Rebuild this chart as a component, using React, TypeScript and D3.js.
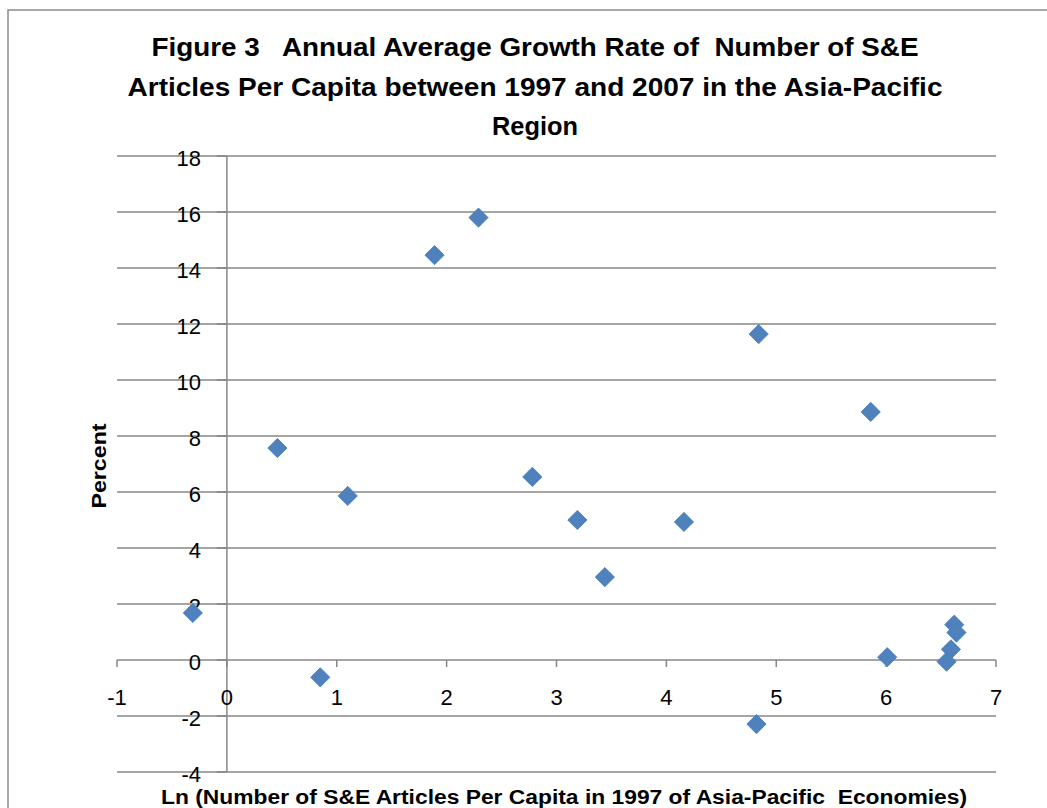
import React from "react";
import * as d3 from "d3";

const xValues = [-0.31, 0.46, 0.85, 1.1, 1.89, 2.29, 2.78, 3.19, 3.44, 4.16, 4.84, 4.82, 5.86, 6.01, 6.55, 6.59, 6.62, 6.64];
const yValues = [1.68, 7.57, -0.62, 5.86, 14.46, 15.8, 6.54, 5.0, 2.96, 4.93, 11.64, -2.29, 8.86, 0.1, -0.06, 0.38, 1.26, 0.98];
const xTicks = [-1, 0, 1, 2, 3, 4, 5, 6, 7];
const yTicks = [-4, -2, 0, 2, 4, 6, 8, 10, 12, 14, 16, 18];
const titleLines = [
  "Figure 3   Annual Average Growth Rate of  Number of S&E",
  "Articles Per Capita between 1997 and 2007 in the Asia-Pacific",
  "Region",
];
const xTitle = "Ln (Number of S&E Articles Per Capita in 1997 of Asia-Pacific  Economies)";
const yTitle = "Percent";

const W = 1047;
const H = 808;
const FONT = "'Liberation Sans', Arial, sans-serif";

export default function App() {
  const x = d3.scaleLinear().domain([-1, 7]).range([117, 996]);
  const y = d3.scaleLinear().domain([-4, 18]).range([772, 156]);
  const grid = "#878787";
  const diamond = d3.symbol().type(d3.symbolSquare).size(185)();
  const titleBaselines = [56, 96, 135];
  const titleLengths = [767, 815, 86];
  return (
    <svg width={W} height={H} style={{ position: "absolute", left: 0, top: 0, background: "#fff" }}>
      <rect x={8} y={10} width={W + 20} height={H + 20} fill="#fff" stroke="#8c8c8c" strokeWidth={1.5} />
      {titleLines.map((t, i) => (
        <text
          key={i}
          x={535}
          y={titleBaselines[i]}
          textAnchor="middle"
          fontFamily={FONT}
          fontWeight="bold"
          fontSize={25}
          textLength={titleLengths[i]}
          lengthAdjust="spacingAndGlyphs"
          fill="#000"
          style={{ whiteSpace: "pre" }}
        >
          {t}
        </text>
      ))}
      {yTicks.map((t) => (
        <line key={"g" + t} x1={x(-1)} x2={x(7)} y1={y(t)} y2={y(t)} stroke={grid} strokeWidth={1.5} />
      ))}
      <line x1={x(0)} x2={x(0)} y1={y(-4)} y2={y(18)} stroke={grid} strokeWidth={1.5} />
      {yTicks.map((t) => (
        <line key={"yt" + t} x1={x(0) - 10} x2={x(0)} y1={y(t)} y2={y(t)} stroke={grid} strokeWidth={1.5} />
      ))}
      {xTicks.map((t) => (
        <line key={"xt" + t} x1={x(t)} x2={x(t)} y1={y(0)} y2={y(0) + 7} stroke={grid} strokeWidth={1.5} />
      ))}
      {yTicks.map((t) => (
        <text key={"yl" + t} x={201} y={y(t) + 10} textAnchor="end" fontFamily={FONT} fontSize={22} fill="#000">
          {String(t)}
        </text>
      ))}
      {xTicks.map((t) => (
        <text key={"xl" + t} x={x(t)} y={705} textAnchor="middle" fontFamily={FONT} fontSize={22} fill="#000">
          {String(t)}
        </text>
      ))}
      {xValues.map((xv, i) => (
        <path
          key={"p" + i}
          d={diamond}
          transform={`translate(${x(xv)},${y(yValues[i])}) rotate(45)`}
          fill="#4F81BD"
          stroke="#4A7EBB"
          strokeWidth={0.8}
        />
      ))}
      <text
        x={564}
        y={804}
        textAnchor="middle"
        fontFamily={FONT}
        fontWeight="bold"
        fontSize={20}
        textLength={806}
        lengthAdjust="spacingAndGlyphs"
        fill="#000"
        style={{ whiteSpace: "pre" }}
      >
        {xTitle}
      </text>
      <text
        transform={`translate(106,466) rotate(-90)`}
        textAnchor="middle"
        fontFamily={FONT}
        fontWeight="bold"
        fontSize={20}
        textLength={85}
        lengthAdjust="spacingAndGlyphs"
        fill="#000"
      >
        {yTitle}
      </text>
    </svg>
  );
}
